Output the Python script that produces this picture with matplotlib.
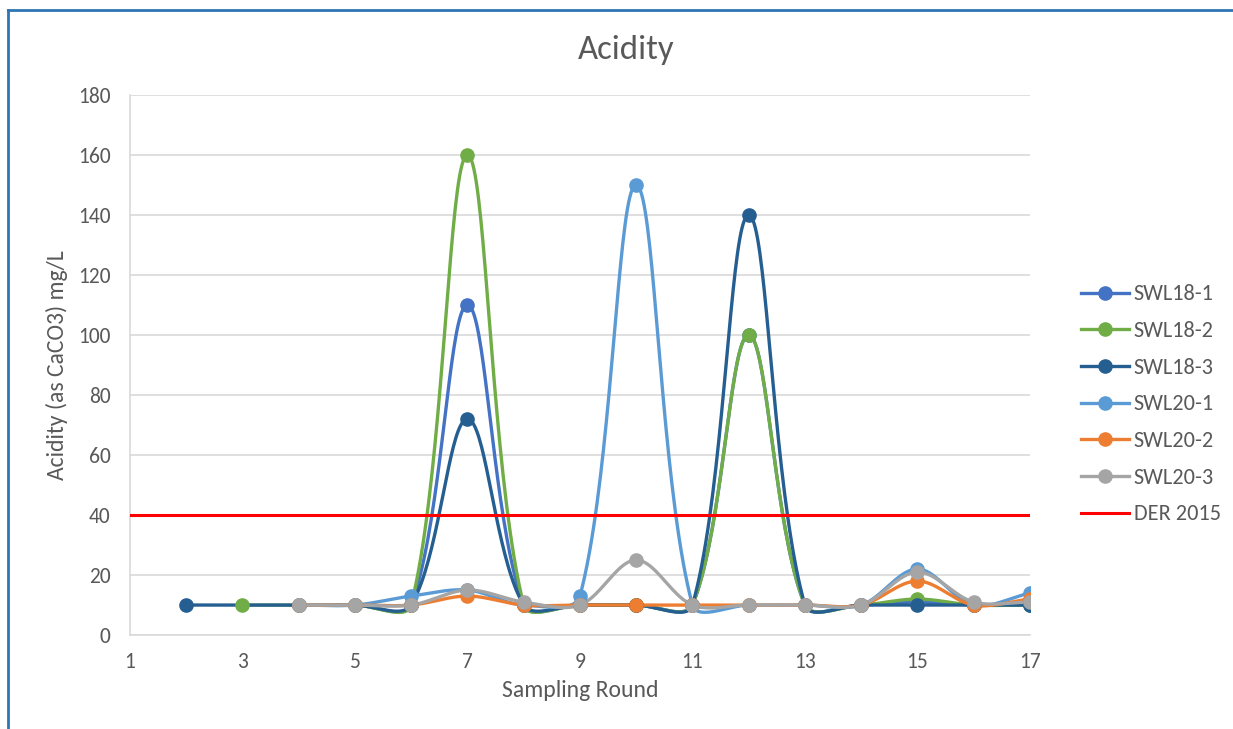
import numpy as np
import matplotlib
matplotlib.use('Agg')
import matplotlib.pyplot as plt
from matplotlib.lines import Line2D

plt.rcParams['font.family'] = ['Carlito', 'Liberation Sans', 'DejaVu Sans']

# # Data
rounds = np.arange(2, 18)
nan = np.nan
swl18_1 = [nan, nan, 10, 10, 10, 110, 10, 10, 10, 10, 100, 10, 10, 11, 10, 10]
swl18_2 = [nan, 10, 10, 10, 10, 160, 10, 10, 10, 10, 100, 10, 10, 12, 10, 10]
swl18_3 = [10, nan, 10, 10, 10, 72, 10, 10, 10, 10, 140, 10, 10, 10, 10, 10]
swl20_1 = [nan, nan, 10, 10, 13, 15, 10, 13, 150, 10, 10, 10, 10, 22, 10, 14]
swl20_2 = [nan, nan, 10, 10, 10, 13, 10, 10, 10, 10, 10, 10, 10, 18, 10, 12]
swl20_3 = [nan, nan, 10, 10, 10, 15, 11, 10, 25, 10, 10, 10, 10, 21, 11, 11]
der_2015 = 40

series_names = ['SWL18-1', 'SWL18-2', 'SWL18-3', 'SWL20-1', 'SWL20-2', 'SWL20-3']
series_values = [swl18_1, swl18_2, swl18_3, swl20_1, swl20_2, swl20_3]
series_colors = ['#4472C4', '#70AD47', '#255E91', '#5B9BD5', '#ED7D31', '#A5A5A5']

TEXT_COLOR = '#595959'
X_SCALE = 56.25	# pixels per round, used so the smoothing works in screen space like Excel
Y_SCALE = 3.0	# pixels per mg/L


def smooth(x, y, n=40):
	""" Excel-like smoothed line: bezier segments, tangent arms weighted by segment length """
	px = np.asarray(x, float) * X_SCALE
	py = np.asarray(y, float) * Y_SCALE
	if len(px) < 2:
		return px / X_SCALE, py / Y_SCALE
	pts = np.column_stack([px, py])
	pts = np.vstack([pts[0], pts, pts[-1]])
	t = np.linspace(0, 1, n)[:, None]
	out = []
	for i in range(1, len(pts) - 2):
		p0, p1, p2, p3 = pts[i - 1], pts[i], pts[i + 1], pts[i + 2]
		d01 = np.hypot(*(p1 - p0))
		d12 = np.hypot(*(p2 - p1))
		d23 = np.hypot(*(p3 - p2))
		c1 = p1 + (p2 - p0) * (d12 / (d01 + d12) / 3.0 if d01 + d12 > 0 else 0)
		c2 = p2 - (p3 - p1) * (d12 / (d12 + d23) / 3.0 if d12 + d23 > 0 else 0)
		b = (1 - t) ** 3 * p1 + 3 * (1 - t) ** 2 * t * c1 + 3 * (1 - t) * t ** 2 * c2 + t ** 3 * p2
		out.append(b)
	out = np.vstack(out)
	return out[:, 0] / X_SCALE, out[:, 1] / Y_SCALE


figure = plt.figure(figsize=(12.33, 7.29), dpi=100)
axes = figure.add_axes([0.1054, 0.1289, 0.7299, 0.7407])

handles = []
for name, vals, color in zip(series_names, series_values, series_colors):
	vals = np.asarray(vals, float)
	mask = ~np.isnan(vals)
	sx, sy = smooth(rounds[mask], vals[mask])
	axes.plot(sx, sy, color=color, lw=2.4, zorder=3, solid_capstyle='round')
	axes.plot(rounds[mask], vals[mask], 'o', color=color, ms=9.5, zorder=4)
	handles.append(Line2D([], [], color=color, lw=2.4, marker='o', ms=9.5, label=name))

axes.axhline(der_2015, color='#FF0000', lw=2.2, zorder=5)
handles.append(Line2D([], [], color='#FF0000', lw=2.2, label='DER 2015'))

axes.set_xlim(1, 17)
axes.set_ylim(0, 180)
axes.set_xticks(range(1, 18, 2))
axes.set_yticks(range(0, 181, 20))
axes.grid(axis='y', color='#D9D9D9', lw=1.2, zorder=0)
axes.set_axisbelow(True)
for side in ['top', 'right']:
	axes.spines[side].set_visible(False)
axes.spines['left'].set_color('#D9D9D9')
axes.spines['bottom'].set_color('#D9D9D9')
axes.spines['left'].set_linewidth(1.2)
axes.spines['bottom'].set_linewidth(1.2)
axes.tick_params(axis='y', length=0, labelsize=15.5, labelcolor=TEXT_COLOR, pad=14)
axes.tick_params(axis='x', length=0, labelsize=15.5, labelcolor=TEXT_COLOR, pad=12)

figure.text(626 / 1233, 1 - 50 / 729, 'Acidity', fontsize=25, color=TEXT_COLOR, ha='center', va='center')
axes.set_xlabel('Sampling Round', fontsize=17, color=TEXT_COLOR, labelpad=6)
axes.set_ylabel('Acidity (as CaCO3) mg/L', fontsize=17, color=TEXT_COLOR, labelpad=7)

figure.legend(handles=handles, loc='upper left', bbox_to_anchor=(0.8695, 0.622),
	frameon=False, fontsize=16, labelcolor=TEXT_COLOR, handlelength=2.15,
	handletextpad=0.22, labelspacing=0.75, borderaxespad=0)

# chart frame (blue border, cropped at right and bottom)
figure.add_artist(Line2D([0.0065, 0.0065], [0, 0.986], color='#2E75B6', lw=2, transform=figure.transFigure))
figure.add_artist(Line2D([0.0065, 1], [0.986, 0.986], color='#2E75B6', lw=2, transform=figure.transFigure))

figure.savefig('out.png', dpi=100)
